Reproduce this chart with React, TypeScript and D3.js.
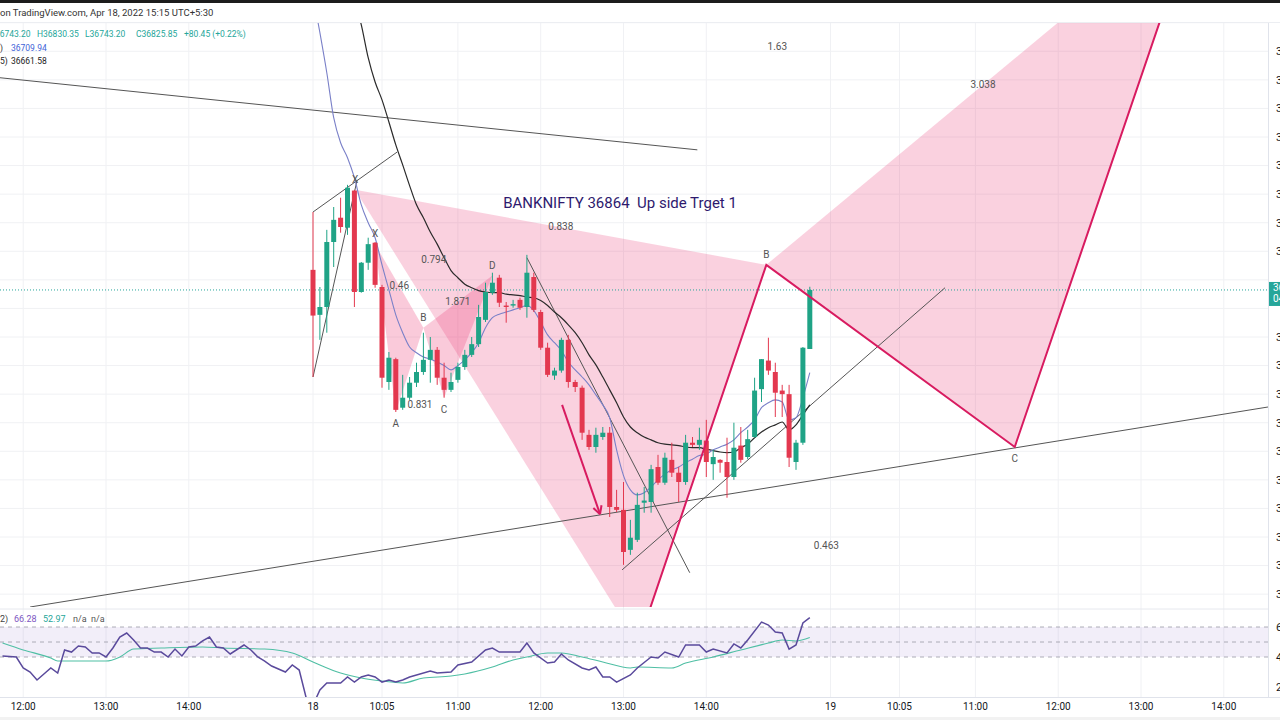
import React, { useRef, useEffect } from 'react';
import * as d3 from 'd3';

// 5 min bars, index 0 = Apr 18 09:15
const candleOpen = [36854, 36791, 36802, 36893, 36927, 36913, 36965, 36823, 36864, 36892, 36830, 36697, 36729, 36661, 36675, 36696, 36711, 36728, 36742, 36703, 36686, 36700, 36718, 36735, 36750, 36784, 36822, 36843, 36804, 36804, 36812, 36802, 36844, 36795, 36745, 36706, 36713, 36756, 36697, 36689, 36623, 36606, 36620, 36626, 36522, 36518, 36462, 36476, 36528, 36529, 36578, 36556, 36588, 36570, 36557, 36612, 36609, 36615, 36582, 36588, 36585, 36564, 36608, 36592, 36620, 36687, 36727, 36711, 36685, 36680, 36585, 36612, 36743.2];
const candleHigh = [36935, 36830, 36910, 36942, 36955, 36973, 36966, 36865, 36899, 36893, 36833, 36739, 36731, 36707, 36704, 36724, 36766, 36760, 36746, 36724, 36710, 36724, 36742, 36760, 36805, 36836, 36850, 36847, 36809, 36812, 36815, 36875, 36850, 36798, 36752, 36717, 36759, 36763, 36700, 36692, 36630, 36633, 36634, 36634, 36546, 36557, 36504, 36542, 36550, 36581, 36595, 36598, 36612, 36578, 36623, 36620, 36633, 36644, 36602, 36589, 36619, 36640, 36634, 36630, 36703, 36729, 36759, 36724, 36693, 36693, 36616, 36746, 36830.35];
const candleLow = [36704, 36756, 36766, 36858, 36906, 36903, 36802, 36822, 36854, 36829, 36689, 36686, 36655, 36658, 36672, 36690, 36707, 36696, 36693, 36675, 36683, 36696, 36714, 36732, 36746, 36781, 36819, 36802, 36780, 36801, 36798, 36787, 36795, 36742, 36704, 36700, 36710, 36689, 36683, 36616, 36602, 36598, 36616, 36508, 36515, 36441, 36455, 36473, 36514, 36514, 36553, 36553, 36564, 36529, 36553, 36606, 36602, 36564, 36560, 36570, 36535, 36560, 36584, 36589, 36619, 36669, 36707, 36648, 36648, 36578, 36574, 36609, 36743.2];
const candleClose = [36790, 36802, 36893, 36924, 36914, 36969, 36823, 36864, 36890, 36833, 36703, 36731, 36658, 36675, 36696, 36711, 36728, 36742, 36703, 36686, 36697, 36718, 36735, 36750, 36788, 36823, 36836, 36808, 36802, 36806, 36801, 36850, 36798, 36745, 36707, 36713, 36756, 36697, 36690, 36626, 36606, 36623, 36626, 36522, 36518, 36459, 36479, 36525, 36531, 36575, 36556, 36591, 36570, 36557, 36612, 36609, 36616, 36585, 36592, 36584, 36564, 36605, 36588, 36617, 36685, 36729, 36713, 36682, 36680, 36591, 36612, 36745, 36825.85];

// moving averages (blue starts at bar -1, black at bar 5)
const fastMAStart = -1;
const fastMA = [37290, 37239, 37186, 37130, 37067, 37032, 37011, 36983, 36945, 36920, 36899, 36861, 36826, 36791, 36766, 36746, 36738, 36732, 36729, 36725, 36720, 36714, 36720, 36728, 36738, 36752, 36773, 36787, 36792, 36795, 36798, 36801, 36804, 36797, 36781, 36763, 36752, 36741, 36725, 36714, 36704, 36693, 36679, 36665, 36647, 36602, 36566, 36546, 36539, 36542, 36550, 36560, 36568, 36574, 36578, 36584, 36589, 36594, 36596, 36602, 36606, 36610, 36616, 36626, 36634, 36644, 36661, 36668, 36672, 36669, 36644, 36647, 36675, 36710];
const slowMAStart = 5;
const slowMA = [37267, 37232, 37197, 37151, 37117, 37092, 37061, 37029, 37001, 36972, 36945, 36927, 36907, 36890, 36871, 36853, 36843, 36834, 36829, 36825, 36823, 36822, 36822, 36820, 36819, 36818, 36816, 36815, 36811, 36804, 36795, 36787, 36777, 36766, 36752, 36735, 36721, 36704, 36686, 36668, 36648, 36634, 36626, 36620, 36616, 36612, 36610, 36609, 36608, 36606, 36605, 36605, 36603, 36601, 36599, 36598, 36599, 36605, 36610, 36619, 36627, 36633, 36637, 36641, 36630, 36637, 36651, 36665];
const fastMALabel = '36709.94';
const slowMALabel = '36661.58';

// RSI pane
const rsiIndex = [-45, -43, -42, -41, -40, -39, -38, -37, -36, -35, -34, -33, -32, -31, -30, -29, -28, -27, -26, -25, -24, -23, -22, -21, -20, -19, -18, -17, -16, -15, -14, -13, -12, -10, -9, -8, -7, -6, -4, -3, -2, -1, 0, 1, 2, 4, 5, 6, 7, 8, 9, 10, 11, 12, 13, 14, 17, 18, 20, 21, 23, 25, 26, 27, 30, 31, 32, 34, 35, 36, 37, 39, 40, 41, 42, 43, 44, 46, 47, 49, 50, 51, 53, 54, 56, 57, 58, 60, 61, 62, 63, 65, 66, 67, 68, 69, 70, 71, 72];
const rsiValue = [40.7, 40, 32.7, 30, 24.7, 28.7, 32.7, 29.3, 44.7, 43.3, 47.3, 46.7, 42.7, 42.7, 40, 46, 53.3, 56, 51.3, 46, 46, 43.3, 43.3, 40, 45.3, 40.7, 46.7, 47.3, 50.7, 53.3, 46.7, 46, 42, 48, 44.7, 40, 37.3, 34, 30, 34.7, 31.3, 13, 8, 18, 22.7, 22.7, 26.7, 23.3, 26.7, 28, 26.7, 23.3, 24.7, 23.3, 24.7, 26.7, 30.7, 29.3, 30, 34.7, 36.7, 44.7, 46, 43.3, 43.3, 49.3, 42.7, 36, 36.7, 42, 38, 32.7, 31.3, 33.3, 26.7, 26.7, 23.3, 28, 32.7, 40, 39.3, 43.3, 40, 48, 48, 43.3, 45.3, 42.7, 48.7, 46, 51.3, 63.3, 61.3, 56.7, 56, 45.3, 48, 62.7, 66.28];
const rsiMAIndex = [-45, -42, -38, -37, -33, -30, -28, -26, -22, -16, -13, -7, -3, 0, 4, 7, 10, 13, 16, 20, 22, 26, 29, 31, 34, 36, 39, 42, 46, 47, 52, 54, 58, 62, 66, 68, 70, 72];
const rsiMAValue = [49.3, 44.7, 39.3, 37.3, 37.3, 37.3, 40, 45.3, 46, 46.7, 46, 45.3, 42.7, 36.7, 29.3, 26, 24, 22.7, 26, 27.3, 28.7, 33.3, 38, 40, 42.7, 42.7, 40, 36.7, 32.7, 33.3, 32.7, 36, 40, 44.7, 49.3, 51.3, 50.7, 52.97];
const rsiBand = [60, 50, 40];
const rsiTicks = [60, 40, 20];

// axes
const timeTickIndex = [-42, -30, -18, 0, 10, 21, 33, 45, 57, 75, 85, 96, 108, 120, 132];
const timeTickLabel = ['12:00', '13:00', '14:00', '18', '10:05', '11:00', '12:00', '13:00', '14:00', '19', '10:05', '11:00', '12:00', '13:00', '14:00'];
const priceTicks = [36400, 36440, 36480, 36520, 36560, 36600, 36640, 36680, 36720, 36760, 36800, 36840, 36880, 36920, 36960, 37000, 37040, 37080, 37120, 37160, 37200];

// drawings, as [bar index, price]
const trendLines = [
  [[-45.4, 37123], [55.7, 37022]],
  [[-41, 36382], [138.4, 36662]],
  [[0, 36935], [12.2, 37019]],
  [[0, 36704], [6.4, 36980]],
  [[31, 36871], [54.6, 36430]],
  [[44.8, 36434], [91.6, 36829]],
];
const arrowLine = [[36.1, 36665], [41.6, 36512]];
const patternNames = ['X', 'A', 'B', 'C', 'D'];
const bigPattern = [[6.1, 36966], [47.1, 36330], [65.7, 36861], [101.7, 36606], [128.5, 37365]];
const bigRatios = ['0.838', '0.463', '3.038', '1.63'];
const smallPattern = [[9, 36890], [12, 36655], [16, 36773], [19, 36675], [26, 36846]];
const smallRatios = ['0.46', '0.831', '1.871', '0.794'];
const noteText = 'BANKNIFTY 36864  Up side Trget 1';
const notePoint = [44.5, 36948];

const App = () => {
  const chartRef = useRef<SVGSVGElement>(null);

  useEffect(() => {
    const svg = d3.select(chartRef.current);
    svg.selectAll('*').remove();
    const font = 'Roboto, "Open Sans", sans-serif';

    const x = d3.scaleLinear().domain([0, 72]).range([313, 313 + 72 * 6.9]);
    const y = d3.scaleLinear().domain([36382, 37201]).range([607, 22]);
    const yr = d3.scaleLinear().domain([40, 60]).range([657, 627]);
    const pt = (d: number[]) => [x(d[0]), y(d[1])] as [number, number];
    const lastClose = candleClose[candleClose.length - 1];

    svg.append('rect').attr('width', 1280).attr('height', 720).attr('fill', '#fff');

    const defs = svg.append('defs');
    defs.append('clipPath').attr('id', 'mainClip').append('rect')
      .attr('x', 0).attr('y', 22).attr('width', 1268).attr('height', 585);
    defs.append('clipPath').attr('id', 'rsiClip').append('rect')
      .attr('x', 0).attr('y', 611).attr('width', 1268).attr('height', 86);

    // grid
    const grid = svg.append('g');
    timeTickIndex.forEach(i => {
      grid.append('line').attr('x1', x(i)).attr('x2', x(i)).attr('y1', 22).attr('y2', 697)
        .attr('stroke', '#f0f1f4');
    });
    priceTicks.forEach(p => {
      grid.append('line').attr('x1', 0).attr('x2', 1268).attr('y1', y(p)).attr('y2', y(p))
        .attr('stroke', '#f0f1f4');
    });

    const main = svg.append('g').attr('clip-path', 'url(#mainClip)');

    // pattern fills
    const drawPattern = (pts: number[][], opacity: number) => {
      const p = pts.map(pt);
      [[0, 1, 2], [2, 3, 4]].forEach(tri => {
        main.append('path')
          .attr('d', 'M' + tri.map(k => p[k].join(',')).join('L') + 'Z')
          .attr('fill', '#ec407a').attr('fill-opacity', opacity);
      });
    };
    drawPattern(bigPattern, 0.24);
    drawPattern(smallPattern, 0.28);

    // close price line
    main.append('line').attr('x1', 0).attr('x2', 1268)
      .attr('y1', y(lastClose)).attr('y2', y(lastClose))
      .attr('stroke', '#26a69a').attr('stroke-dasharray', '1,2');

    // trend lines
    trendLines.forEach(l => {
      const [a, b] = l.map(pt);
      main.append('line').attr('x1', a[0]).attr('y1', a[1]).attr('x2', b[0]).attr('y2', b[1])
        .attr('stroke', '#555').attr('stroke-width', 1);
    });

    // moving averages
    const maLine = (start: number) => d3.line<number>()
      .x((_, k) => x(start + k)).y(v => y(v)).curve(d3.curveMonotoneX);
    main.append('path').attr('d', maLine(slowMAStart)(slowMA))
      .attr('fill', 'none').attr('stroke', '#2a2a2a').attr('stroke-width', 1.2);
    main.append('path').attr('d', maLine(fastMAStart)(fastMA))
      .attr('fill', 'none').attr('stroke', '#7a80c8').attr('stroke-width', 1.1);

    // candles
    const up = '#1fa386', down = '#e3384f';
    candleOpen.forEach((o, i) => {
      const c = candleClose[i];
      const col = c >= o ? up : down;
      main.append('line').attr('x1', x(i)).attr('x2', x(i))
        .attr('y1', y(candleHigh[i])).attr('y2', y(candleLow[i]))
        .attr('stroke', col).attr('stroke-width', 1);
      main.append('rect').attr('x', x(i) - 2.5).attr('width', 5)
        .attr('y', y(Math.max(o, c))).attr('height', Math.max(1, Math.abs(y(o) - y(c))))
        .attr('fill', col);
    });

    // pattern lines A-B-C-D
    const bp = bigPattern.map(pt);
    main.append('path').attr('d', d3.line()([bp[1], bp[2], bp[3], bp[4]]))
      .attr('fill', 'none').attr('stroke', '#d81b60').attr('stroke-width', 2);

    // arrow
    const [a0, a1] = arrowLine.map(pt);
    main.append('line').attr('x1', a0[0]).attr('y1', a0[1]).attr('x2', a1[0]).attr('y2', a1[1])
      .attr('stroke', '#d81b60').attr('stroke-width', 2);
    const ang = Math.atan2(a1[1] - a0[1], a1[0] - a0[0]);
    [-0.5, 0.5].forEach(d => {
      main.append('line').attr('x1', a1[0]).attr('y1', a1[1])
        .attr('x2', a1[0] - 9 * Math.cos(ang + d)).attr('y2', a1[1] - 9 * Math.sin(ang + d))
        .attr('stroke', '#d81b60').attr('stroke-width', 2);
    });

    // pattern labels and ratios
    const labelPattern = (pts: number[][], ratios: string[]) => {
      const p = pts.map(pt);
      p.forEach((q, k) => {
        const below = k === 1 || k === 3;
        main.append('text').attr('x', q[0]).attr('y', q[1] + (below ? 15 : -7))
          .attr('text-anchor', 'middle').attr('font-size', 10).attr('font-family', font)
          .attr('fill', '#555').text(patternNames[k]);
      });
      const pairs = [[0, 2], [1, 3], [2, 4], [0, 4]];
      pairs.forEach(([m, n], k) => {
        main.append('text').attr('x', (p[m][0] + p[n][0]) / 2).attr('y', (p[m][1] + p[n][1]) / 2 + 3)
          .attr('text-anchor', 'middle').attr('font-size', 10).attr('font-family', font)
          .attr('fill', '#555').text(ratios[k]);
      });
    };
    labelPattern(bigPattern, bigRatios);
    labelPattern(smallPattern, smallRatios);

    const np = pt(notePoint);
    main.append('text').attr('x', np[0]).attr('y', np[1]).attr('dy', '0.35em')
      .attr('text-anchor', 'middle').attr('font-size', 15).attr('font-family', font)
      .style('white-space', 'pre').attr('fill', '#2e1a6e').text(noteText);

    // RSI pane
    svg.append('line').attr('x1', 0).attr('x2', 1268).attr('y1', 609).attr('y2', 609).attr('stroke', '#e6e8ee');
    const rsiG = svg.append('g').attr('clip-path', 'url(#rsiClip)');
    rsiG.append('rect').attr('x', 0).attr('width', 1268)
      .attr('y', yr(rsiBand[0])).attr('height', yr(rsiBand[2]) - yr(rsiBand[0]))
      .attr('fill', '#7e57c2').attr('fill-opacity', 0.1);
    rsiBand.forEach(v => {
      rsiG.append('line').attr('x1', 0).attr('x2', 1268).attr('y1', yr(v)).attr('y2', yr(v))
        .attr('stroke', '#9a9aa6').attr('stroke-dasharray', '4,4').attr('stroke-width', 0.8);
    });
    const rsiLine = d3.line<number>().x((_, k) => x(rsiMAIndex[k])).y(v => yr(v)).curve(d3.curveMonotoneX);
    rsiG.append('path').attr('d', rsiLine(rsiMAValue))
      .attr('fill', 'none').attr('stroke', '#4fbfa4').attr('stroke-width', 1.1);
    const rsiMain = d3.line<number>().x((_, k) => x(rsiIndex[k])).y(v => yr(v));
    rsiG.append('path').attr('d', rsiMain(rsiValue))
      .attr('fill', 'none').attr('stroke', '#5a4a9c').attr('stroke-width', 1.5);

    const rsiHead = svg.append('text').attr('x', 0).attr('y', 622).attr('font-size', 9)
      .attr('font-family', font).style('white-space', 'pre');
    rsiHead.append('tspan').attr('fill', '#444').text('2)');
    rsiHead.append('tspan').attr('x', 14).attr('fill', '#7e57c2').text('66.28');
    rsiHead.append('tspan').attr('x', 43).attr('fill', '#26a69a').text('52.97');
    rsiHead.append('tspan').attr('x', 73).attr('fill', '#555').text('n/a  n/a');

    // price scale
    const cy = y(lastClose);
    svg.append('line').attr('x1', 1268.5).attr('x2', 1268.5).attr('y1', 22).attr('y2', 697).attr('stroke', '#e0e3eb');
    priceTicks.filter(p => y(p) > 30 && y(p) < 600 && Math.abs(y(p) - cy - 4) > 16).forEach(p => {
      svg.append('text').attr('x', 1276).attr('y', y(p)).attr('dy', '0.35em')
        .attr('font-size', 11).attr('font-family', font).attr('fill', '#131722').text(p.toFixed(2));
    });
    rsiTicks.forEach(v => {
      svg.append('text').attr('x', 1276).attr('y', yr(v)).attr('dy', '0.35em')
        .attr('font-size', 11).attr('font-family', font).attr('fill', '#131722').text(v.toFixed(2));
    });
    svg.append('rect').attr('x', 1269).attr('y', cy - 8).attr('width', 60).attr('height', 24).attr('fill', '#26a69a');
    svg.append('text').attr('x', 1273).attr('y', cy + 1).attr('font-size', 10).attr('font-family', font)
      .attr('fill', '#fff').text(lastClose.toFixed(2));
    svg.append('text').attr('x', 1273).attr('y', cy + 12).attr('font-size', 10).attr('font-family', font)
      .attr('fill', '#fff').text('04:12');

    // time axis
    svg.append('line').attr('x1', 0).attr('x2', 1280).attr('y1', 697.5).attr('y2', 697.5).attr('stroke', '#e0e3eb');
    timeTickIndex.forEach((i, k) => {
      svg.append('text').attr('x', x(i)).attr('y', 710).attr('text-anchor', 'middle')
        .attr('font-size', 10).attr('font-family', font).attr('fill', '#131722').text(timeTickLabel[k]);
    });
    svg.append('rect').attr('x', 0).attr('y', 717).attr('width', 1280).attr('height', 3).attr('fill', '#f2f2f2');

    // header
    svg.append('rect').attr('x', 0).attr('y', 0).attr('width', 1280).attr('height', 3).attr('fill', '#1c1c1c');
    svg.append('line').attr('x1', 0).attr('x2', 1280).attr('y1', 22.5).attr('y2', 22.5).attr('stroke', '#eceef2');
    svg.append('text').attr('x', 0).attr('y', 16).attr('font-size', 9.5).attr('font-family', font)
      .attr('fill', '#333').text('on TradingView.com, Apr 18, 2022 15:15 UTC+5:30');
    const ohlc = svg.append('text').attr('y', 37).attr('font-size', 8.5).attr('font-family', font).attr('fill', '#26a69a');
    ohlc.append('tspan').attr('x', -11).text('O36743.20');
    ohlc.append('tspan').attr('x', 37).text('H36830.35');
    ohlc.append('tspan').attr('x', 85).text('L36743.20');
    ohlc.append('tspan').attr('x', 136).text('C36825.85');
    ohlc.append('tspan').attr('x', 184).text('+80.45 (+0.22%)');
    const ma1 = svg.append('text').attr('y', 51).attr('font-size', 8.5).attr('font-family', font);
    ma1.append('tspan').attr('x', 0).attr('fill', '#333').text(')');
    ma1.append('tspan').attr('x', 11).attr('fill', '#3f64d8').text(fastMALabel);
    const ma2 = svg.append('text').attr('y', 64).attr('font-size', 8.5).attr('font-family', font).attr('fill', '#222');
    ma2.append('tspan').attr('x', 0).text('5)');
    ma2.append('tspan').attr('x', 11).text(slowMALabel);
  }, []);

  return (
    <svg ref={chartRef} width={1280} height={720}
      style={{ position: 'absolute', left: 0, top: 0, overflow: 'hidden' }}></svg>
  );
};

export default App;
